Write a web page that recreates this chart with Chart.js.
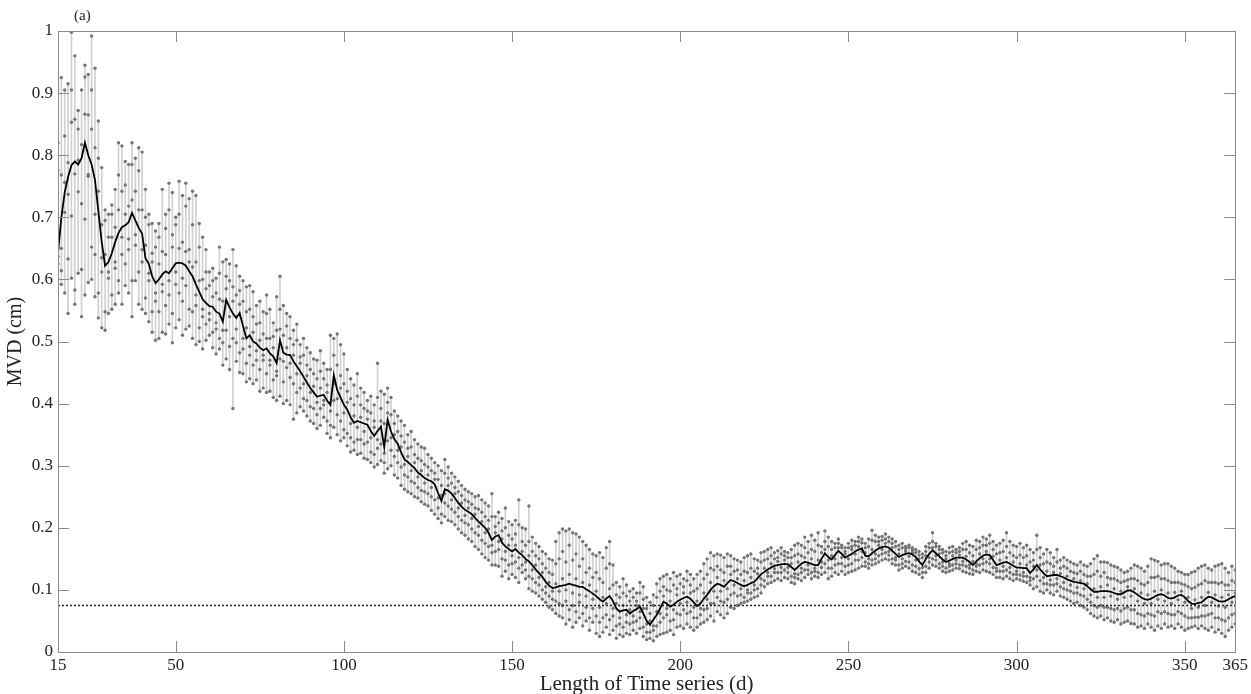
<!DOCTYPE html>
<html>
<head>
<meta charset="utf-8">
<title>MVD vs length of time series</title>
<script src="https://cdn.jsdelivr.net/npm/chart.js@4.4.1/dist/chart.umd.min.js"></script>
<style>
    html, body { margin: 0; padding: 0; background: #fff; }
    #wrap { width: 1251px; height: 694px; position: relative; }
</style>
</head>
<body>
<div id="wrap"><canvas id="mvdChart"></canvas></div>
<script>
// days 15..365, one value per day
const FIRST_DAY = 15;
const LAST_DAY = 365;
const X_TICKS = [15, 50, 100, 150, 200, 250, 300, 350, 365];
const THRESHOLD = 0.075;

// mean MVD (black line)
const MEAN = [
    0.643,0.700,0.740,0.765,0.784,0.790,0.785,0.795,0.820,0.800, // 15
    0.785,0.760,0.710,0.660,0.622,0.628,0.642,0.660,0.675,0.684, // 25
    0.687,0.692,0.707,0.695,0.683,0.674,0.634,0.625,0.605,0.594, // 35
    0.600,0.608,0.613,0.610,0.618,0.626,0.627,0.626,0.622,0.613, // 45
    0.605,0.592,0.580,0.568,0.562,0.557,0.556,0.548,0.545,0.532, // 55
    0.567,0.555,0.545,0.538,0.546,0.525,0.505,0.510,0.500,0.497, // 65
    0.490,0.486,0.489,0.481,0.476,0.465,0.502,0.482,0.479,0.478, // 75
    0.468,0.460,0.452,0.443,0.434,0.425,0.418,0.411,0.413,0.414, // 85
    0.405,0.398,0.446,0.422,0.410,0.398,0.390,0.378,0.369,0.372, // 95
    0.370,0.368,0.366,0.356,0.348,0.356,0.363,0.330,0.374,0.355, // 105
    0.343,0.335,0.322,0.310,0.306,0.301,0.296,0.289,0.285,0.280, // 115
    0.277,0.275,0.270,0.256,0.243,0.262,0.260,0.255,0.248,0.240, // 125
    0.234,0.229,0.226,0.222,0.216,0.210,0.205,0.200,0.192,0.180, // 135
    0.186,0.188,0.176,0.170,0.166,0.162,0.166,0.160,0.156,0.150, // 145
    0.146,0.140,0.133,0.127,0.121,0.113,0.107,0.103,0.104,0.106, // 155
    0.107,0.108,0.110,0.108,0.107,0.105,0.105,0.101,0.098,0.094, // 165
    0.090,0.085,0.081,0.086,0.090,0.082,0.070,0.065,0.067,0.068, // 175
    0.062,0.066,0.069,0.073,0.062,0.050,0.044,0.052,0.060,0.070, // 185
    0.081,0.078,0.073,0.076,0.081,0.084,0.087,0.089,0.086,0.080, // 195
    0.074,0.078,0.086,0.092,0.100,0.106,0.110,0.108,0.105,0.111, // 205
    0.116,0.114,0.111,0.108,0.106,0.108,0.111,0.113,0.119,0.125, // 215
    0.129,0.133,0.136,0.139,0.140,0.141,0.142,0.141,0.137,0.132, // 225
    0.137,0.142,0.145,0.144,0.142,0.140,0.140,0.150,0.159,0.153, // 235
    0.149,0.156,0.163,0.158,0.152,0.155,0.158,0.162,0.165,0.167, // 245
    0.155,0.154,0.159,0.163,0.167,0.169,0.170,0.168,0.163,0.158, // 255
    0.153,0.156,0.158,0.159,0.157,0.153,0.146,0.140,0.150,0.158, // 265
    0.164,0.159,0.154,0.149,0.145,0.147,0.150,0.152,0.152,0.152, // 275
    0.149,0.145,0.140,0.146,0.151,0.155,0.157,0.156,0.148,0.140, // 285
    0.142,0.144,0.145,0.142,0.139,0.136,0.136,0.135,0.135,0.127, // 295
    0.133,0.140,0.133,0.127,0.122,0.123,0.124,0.124,0.122,0.120, // 305
    0.117,0.115,0.113,0.112,0.111,0.110,0.106,0.101,0.097,0.097, // 315
    0.098,0.098,0.098,0.097,0.095,0.093,0.093,0.096,0.099,0.099, // 325
    0.096,0.092,0.088,0.085,0.084,0.086,0.089,0.092,0.093,0.091, // 335
    0.087,0.086,0.088,0.091,0.092,0.088,0.082,0.078,0.077,0.079, // 345
    0.080,0.085,0.089,0.088,0.085,0.082,0.081,0.082,0.085,0.088, // 355
    0.090                                                        // 365
];

// top of each grey range line
const HIGH = [
    0.820,0.925,0.905,0.915,0.998,0.960,0.872,0.905,0.945,0.930,
    0.992,0.940,0.855,0.780,0.712,0.705,0.720,0.745,0.820,0.815,
    0.790,0.785,0.820,0.795,0.812,0.805,0.745,0.705,0.690,0.678,
    0.690,0.745,0.705,0.755,0.740,0.700,0.758,0.735,0.755,0.730,
    0.742,0.735,0.690,0.668,0.648,0.612,0.618,0.602,0.652,0.628,
    0.632,0.625,0.648,0.622,0.605,0.598,0.588,0.590,0.580,0.558,
    0.565,0.548,0.575,0.552,0.530,0.572,0.605,0.558,0.545,0.540,
    0.518,0.528,0.495,0.505,0.490,0.482,0.472,0.470,0.485,0.465,
    0.455,0.510,0.505,0.512,0.495,0.480,0.455,0.440,0.430,0.448,
    0.425,0.418,0.405,0.412,0.398,0.465,0.420,0.415,0.425,0.410,
    0.388,0.380,0.372,0.365,0.350,0.355,0.342,0.335,0.330,0.328,
    0.318,0.312,0.305,0.300,0.292,0.310,0.298,0.288,0.282,0.275,
    0.268,0.262,0.258,0.255,0.250,0.252,0.245,0.240,0.235,0.255,
    0.218,0.225,0.215,0.232,0.210,0.205,0.212,0.245,0.200,0.198,
    0.235,0.185,0.175,0.170,0.162,0.158,0.150,0.148,0.178,0.192,
    0.198,0.195,0.198,0.192,0.190,0.185,0.178,0.172,0.165,0.158,
    0.155,0.160,0.152,0.168,0.178,0.140,0.112,0.105,0.118,0.108,
    0.098,0.102,0.095,0.112,0.105,0.088,0.080,0.092,0.110,0.118,
    0.122,0.125,0.118,0.128,0.122,0.125,0.118,0.130,0.125,0.118,
    0.125,0.130,0.142,0.150,0.160,0.155,0.158,0.156,0.152,0.158,
    0.155,0.150,0.148,0.145,0.152,0.155,0.158,0.150,0.148,0.160,
    0.162,0.165,0.168,0.160,0.163,0.168,0.162,0.160,0.165,0.172,
    0.175,0.172,0.185,0.178,0.188,0.180,0.192,0.170,0.195,0.185,
    0.178,0.175,0.182,0.172,0.168,0.175,0.180,0.178,0.185,0.182,
    0.175,0.182,0.196,0.188,0.185,0.186,0.190,0.185,0.182,0.178,
    0.172,0.175,0.170,0.172,0.168,0.165,0.162,0.158,0.170,0.175,
    0.192,0.175,0.170,0.165,0.162,0.168,0.170,0.165,0.168,0.175,
    0.178,0.172,0.170,0.180,0.178,0.185,0.182,0.188,0.178,0.172,
    0.175,0.180,0.192,0.178,0.172,0.170,0.175,0.168,0.172,0.165,
    0.160,0.188,0.168,0.158,0.165,0.160,0.152,0.165,0.148,0.152,
    0.148,0.145,0.142,0.140,0.145,0.140,0.138,0.142,0.150,0.155,
    0.145,0.145,0.144,0.140,0.138,0.136,0.132,0.128,0.130,0.135,
    0.140,0.138,0.135,0.130,0.138,0.150,0.148,0.146,0.140,0.142,
    0.142,0.138,0.135,0.130,0.128,0.125,0.125,0.128,0.130,0.135,
    0.138,0.140,0.135,0.132,0.138,0.140,0.142,0.135,0.128,0.138,
    0.132
];

// bottom of each grey range line
const LOW = [
    0.625,0.592,0.578,0.545,0.602,0.560,0.610,0.540,0.575,0.595,
    0.600,0.572,0.538,0.522,0.518,0.545,0.552,0.560,0.578,0.560,
    0.590,0.578,0.540,0.598,0.560,0.552,0.545,0.532,0.515,0.502,
    0.505,0.515,0.512,0.528,0.498,0.522,0.535,0.510,0.520,0.525,
    0.505,0.495,0.500,0.488,0.502,0.510,0.490,0.480,0.488,0.462,
    0.472,0.455,0.392,0.468,0.450,0.448,0.435,0.440,0.432,0.438,
    0.420,0.425,0.418,0.420,0.410,0.405,0.412,0.400,0.405,0.398,
    0.375,0.385,0.395,0.388,0.380,0.372,0.368,0.360,0.365,0.378,
    0.352,0.345,0.362,0.350,0.340,0.345,0.332,0.322,0.325,0.318,
    0.320,0.312,0.310,0.305,0.298,0.302,0.308,0.288,0.295,0.300,
    0.285,0.280,0.268,0.262,0.258,0.255,0.250,0.248,0.242,0.238,
    0.235,0.228,0.222,0.215,0.208,0.218,0.212,0.210,0.205,0.198,
    0.192,0.188,0.182,0.178,0.170,0.165,0.158,0.152,0.148,0.140,
    0.140,0.138,0.122,0.130,0.118,0.125,0.120,0.112,0.128,0.118,
    0.102,0.098,0.095,0.090,0.085,0.080,0.072,0.068,0.062,0.058,
    0.055,0.045,0.052,0.040,0.048,0.055,0.042,0.050,0.035,0.048,
    0.030,0.025,0.032,0.040,0.028,0.035,0.022,0.028,0.025,0.030,
    0.028,0.035,0.030,0.038,0.025,0.020,0.022,0.018,0.025,0.028,
    0.030,0.032,0.035,0.028,0.040,0.042,0.038,0.045,0.040,0.035,
    0.040,0.045,0.048,0.052,0.058,0.050,0.065,0.060,0.055,0.062,
    0.072,0.070,0.075,0.078,0.080,0.082,0.085,0.088,0.090,0.095,
    0.105,0.110,0.112,0.115,0.118,0.115,0.120,0.118,0.112,0.110,
    0.118,0.115,0.120,0.125,0.118,0.122,0.120,0.125,0.128,0.118,
    0.122,0.128,0.125,0.130,0.125,0.128,0.130,0.132,0.135,0.138,
    0.138,0.135,0.140,0.142,0.145,0.148,0.150,0.148,0.142,0.140,
    0.132,0.135,0.138,0.135,0.130,0.128,0.125,0.120,0.128,0.135,
    0.140,0.138,0.135,0.130,0.128,0.130,0.132,0.135,0.134,0.130,
    0.128,0.126,0.125,0.130,0.128,0.132,0.130,0.128,0.125,0.120,
    0.120,0.118,0.122,0.118,0.115,0.118,0.116,0.114,0.112,0.108,
    0.102,0.105,0.098,0.095,0.100,0.095,0.092,0.098,0.090,0.088,
    0.085,0.082,0.078,0.080,0.075,0.072,0.068,0.062,0.058,0.055,
    0.058,0.052,0.055,0.050,0.048,0.052,0.045,0.048,0.050,0.046,
    0.045,0.040,0.042,0.038,0.045,0.040,0.035,0.042,0.038,0.045,
    0.040,0.042,0.038,0.045,0.040,0.035,0.038,0.040,0.042,0.038,
    0.042,0.038,0.035,0.040,0.032,0.036,0.030,0.025,0.035,0.040,
    0.045
];

// three inner samples per day (grey dots between the ends)
const MID_A = [
    0.776,0.768,0.831,0.788,0.905,0.858,0.842,0.817,0.926,0.865,
    0.905,0.812,0.795,0.688,0.695,0.668,0.705,0.684,0.768,0.742,
    0.752,0.718,0.785,0.742,0.775,0.712,0.700,0.688,0.628,0.652,
    0.668,0.645,0.682,0.712,0.652,0.688,0.705,0.660,0.718,0.648,
    0.688,0.628,0.652,0.600,0.612,0.590,0.598,0.578,0.610,0.565,
    0.605,0.598,0.588,0.575,0.582,0.565,0.548,0.552,0.540,0.528,
    0.530,0.512,0.545,0.505,0.508,0.518,0.552,0.510,0.525,0.505,
    0.495,0.502,0.475,0.478,0.462,0.455,0.448,0.440,0.452,0.440,
    0.430,0.455,0.478,0.462,0.445,0.432,0.420,0.408,0.398,0.412,
    0.398,0.392,0.388,0.385,0.372,0.410,0.392,0.368,0.402,0.382,
    0.368,0.355,0.348,0.338,0.328,0.330,0.318,0.312,0.308,0.302,
    0.298,0.292,0.288,0.278,0.268,0.288,0.280,0.272,0.265,0.258,
    0.252,0.245,0.242,0.238,0.232,0.230,0.225,0.218,0.212,0.218,
    0.202,0.208,0.195,0.200,0.188,0.182,0.190,0.205,0.178,0.172,
    0.178,0.162,0.155,0.150,0.142,0.135,0.128,0.125,0.142,0.150,
    0.162,0.145,0.172,0.148,0.158,0.138,0.150,0.128,0.135,0.120,
    0.128,0.118,0.112,0.135,0.142,0.108,0.092,0.088,0.095,0.090,
    0.082,0.088,0.082,0.095,0.085,0.070,0.062,0.075,0.088,0.098,
    0.105,0.100,0.098,0.108,0.102,0.110,0.105,0.115,0.108,0.098,
    0.102,0.108,0.118,0.125,0.135,0.132,0.138,0.132,0.128,0.138,
    0.138,0.130,0.132,0.125,0.130,0.128,0.135,0.130,0.135,0.145,
    0.148,0.150,0.155,0.150,0.152,0.158,0.155,0.152,0.152,0.155,
    0.158,0.155,0.168,0.160,0.165,0.162,0.172,0.160,0.178,0.170,
    0.165,0.168,0.175,0.168,0.162,0.168,0.170,0.172,0.178,0.176,
    0.168,0.170,0.180,0.178,0.178,0.180,0.182,0.178,0.175,0.170,
    0.165,0.168,0.166,0.168,0.164,0.160,0.156,0.152,0.162,0.168,
    0.178,0.170,0.165,0.160,0.155,0.160,0.162,0.160,0.162,0.165,
    0.165,0.160,0.155,0.165,0.168,0.172,0.172,0.175,0.165,0.158,
    0.160,0.162,0.170,0.160,0.155,0.152,0.156,0.152,0.155,0.145,
    0.148,0.165,0.152,0.142,0.145,0.142,0.138,0.145,0.135,0.138,
    0.135,0.130,0.128,0.126,0.130,0.125,0.122,0.122,0.125,0.130,
    0.122,0.128,0.120,0.118,0.118,0.115,0.112,0.114,0.116,0.118,
    0.118,0.115,0.110,0.108,0.112,0.120,0.120,0.122,0.118,0.118,
    0.115,0.112,0.112,0.112,0.110,0.108,0.105,0.102,0.104,0.108,
    0.110,0.115,0.112,0.112,0.112,0.110,0.112,0.108,0.108,0.115,
    0.112
];

const MID_B = [
    0.637,0.614,0.708,0.633,0.702,0.583,0.741,0.616,0.697,0.769,
    0.652,0.640,0.578,0.612,0.548,0.602,0.575,0.628,0.598,0.640,
    0.625,0.648,0.598,0.655,0.612,0.628,0.570,0.598,0.548,0.565,
    0.548,0.580,0.558,0.575,0.545,0.592,0.578,0.565,0.590,0.552,
    0.548,0.558,0.522,0.540,0.528,0.535,0.515,0.520,0.505,0.498,
    0.518,0.492,0.505,0.498,0.482,0.488,0.465,0.478,0.462,0.470,
    0.455,0.470,0.448,0.462,0.438,0.445,0.472,0.435,0.458,0.442,
    0.432,0.418,0.425,0.408,0.405,0.395,0.392,0.382,0.392,0.398,
    0.372,0.365,0.405,0.382,0.372,0.358,0.352,0.345,0.338,0.342,
    0.342,0.335,0.338,0.322,0.318,0.328,0.335,0.305,0.340,0.325,
    0.315,0.305,0.298,0.285,0.282,0.275,0.272,0.265,0.260,0.258,
    0.255,0.250,0.245,0.232,0.222,0.240,0.235,0.230,0.225,0.218,
    0.212,0.208,0.205,0.198,0.192,0.188,0.180,0.175,0.170,0.160,
    0.162,0.165,0.150,0.148,0.140,0.142,0.145,0.135,0.140,0.132,
    0.122,0.118,0.112,0.108,0.100,0.095,0.090,0.085,0.082,0.078,
    0.075,0.082,0.068,0.075,0.065,0.080,0.062,0.072,0.055,0.070,
    0.058,0.048,0.055,0.060,0.052,0.058,0.042,0.045,0.040,0.048,
    0.045,0.048,0.050,0.055,0.040,0.032,0.032,0.035,0.042,0.048,
    0.055,0.060,0.050,0.052,0.062,0.060,0.068,0.062,0.065,0.055,
    0.055,0.060,0.068,0.070,0.078,0.078,0.088,0.082,0.080,0.085,
    0.092,0.095,0.090,0.092,0.088,0.095,0.095,0.100,0.102,0.108,
    0.115,0.122,0.122,0.128,0.128,0.128,0.132,0.128,0.122,0.120,
    0.125,0.128,0.132,0.132,0.128,0.130,0.128,0.136,0.142,0.135,
    0.135,0.140,0.142,0.142,0.138,0.140,0.142,0.148,0.148,0.152,
    0.145,0.142,0.148,0.150,0.155,0.158,0.160,0.156,0.150,0.148,
    0.140,0.142,0.146,0.145,0.140,0.138,0.134,0.128,0.138,0.145,
    0.150,0.148,0.142,0.138,0.135,0.138,0.140,0.142,0.140,0.140,
    0.138,0.135,0.132,0.138,0.140,0.142,0.145,0.142,0.136,0.130,
    0.130,0.130,0.132,0.128,0.125,0.125,0.124,0.122,0.122,0.115,
    0.118,0.122,0.115,0.110,0.110,0.108,0.108,0.110,0.105,0.102,
    0.100,0.098,0.095,0.095,0.092,0.090,0.085,0.080,0.075,0.072,
    0.075,0.072,0.072,0.070,0.068,0.070,0.066,0.070,0.072,0.068,
    0.068,0.062,0.060,0.058,0.062,0.060,0.058,0.065,0.062,0.065,
    0.062,0.060,0.060,0.065,0.062,0.058,0.055,0.055,0.056,0.056,
    0.058,0.058,0.060,0.062,0.055,0.055,0.052,0.050,0.055,0.060,
    0.062
];

const MID_C = [
    0.663,0.650,0.756,0.737,0.853,0.770,0.792,0.722,0.866,0.766,
    0.842,0.705,0.742,0.635,0.640,0.612,0.668,0.618,0.712,0.668,
    0.705,0.665,0.728,0.672,0.712,0.648,0.655,0.610,0.642,0.578,
    0.625,0.592,0.640,0.598,0.672,0.612,0.650,0.602,0.645,0.628,
    0.620,0.575,0.598,0.552,0.585,0.545,0.572,0.530,0.568,0.518,
    0.585,0.540,0.565,0.520,0.560,0.505,0.522,0.492,0.515,0.485,
    0.502,0.478,0.505,0.470,0.490,0.452,0.520,0.468,0.490,0.465,
    0.478,0.448,0.465,0.432,0.445,0.418,0.428,0.402,0.425,0.405,
    0.418,0.388,0.432,0.408,0.425,0.385,0.402,0.368,0.380,0.362,
    0.378,0.355,0.375,0.345,0.362,0.342,0.372,0.320,0.385,0.345,
    0.350,0.325,0.330,0.302,0.315,0.292,0.305,0.282,0.292,0.272,
    0.285,0.265,0.278,0.248,0.252,0.255,0.268,0.245,0.255,0.232,
    0.240,0.220,0.232,0.215,0.222,0.202,0.210,0.192,0.198,0.172,
    0.192,0.178,0.182,0.162,0.172,0.155,0.172,0.152,0.162,0.145,
    0.155,0.132,0.140,0.120,0.128,0.105,0.112,0.098,0.110,0.098,
    0.118,0.100,0.125,0.095,0.118,0.092,0.112,0.090,0.108,0.085,
    0.098,0.072,0.088,0.078,0.102,0.070,0.078,0.055,0.075,0.060,
    0.068,0.058,0.075,0.065,0.070,0.045,0.050,0.042,0.065,0.062,
    0.090,0.070,0.082,0.068,0.092,0.078,0.095,0.080,0.095,0.072,
    0.082,0.070,0.095,0.085,0.112,0.098,0.120,0.098,0.115,0.102,
    0.125,0.108,0.118,0.102,0.115,0.100,0.120,0.108,0.126,0.118,
    0.135,0.128,0.142,0.134,0.146,0.136,0.148,0.136,0.142,0.126,
    0.145,0.135,0.152,0.140,0.150,0.135,0.148,0.145,0.165,0.148,
    0.155,0.150,0.168,0.152,0.158,0.150,0.165,0.158,0.170,0.162,
    0.160,0.150,0.165,0.158,0.172,0.165,0.175,0.162,0.168,0.152,
    0.158,0.150,0.162,0.154,0.160,0.148,0.150,0.136,0.155,0.152,
    0.168,0.155,0.158,0.145,0.150,0.142,0.155,0.148,0.156,0.146,
    0.154,0.140,0.146,0.142,0.158,0.150,0.162,0.150,0.154,0.135,
    0.148,0.138,0.152,0.136,0.145,0.130,0.142,0.128,0.140,0.120,
    0.138,0.132,0.140,0.120,0.130,0.116,0.128,0.118,0.126,0.112,
    0.122,0.108,0.118,0.104,0.115,0.102,0.110,0.092,0.102,0.088,
    0.105,0.088,0.108,0.090,0.102,0.085,0.098,0.088,0.105,0.090,
    0.102,0.082,0.095,0.078,0.092,0.078,0.098,0.085,0.100,0.082,
    0.095,0.078,0.096,0.084,0.098,0.080,0.088,0.070,0.084,0.072,
    0.088,0.075,0.096,0.080,0.092,0.074,0.088,0.072,0.092,0.080,
    0.095
];

const FONT = '"Liberation Serif", "Times New Roman", serif';
const TICK_LEN = 11;

$main();

function $main() {
    const DAYS = [];
    for (let d = FIRST_DAY; d <= LAST_DAY; d++) DAYS.push(d);

    const rangeData = DAYS.map((d, i) => ({x: d, y: [LOW[i], HIGH[i]]}));
    const dotData = [];
    [HIGH, MID_A, MID_C, MID_B, LOW].forEach(arr => {
        DAYS.forEach((d, i) => dotData.push({x: d, y: arr[i]}));
    });
    const meanData = DAYS.map((d, i) => ({x: d, y: MEAN[i]}));
    const limitData = [{x: FIRST_DAY, y: THRESHOLD}, {x: LAST_DAY, y: THRESHOLD}];

    // box, inward ticks on four sides and the panel letter
    const framePlugin = {
        id: 'frame',
        afterDraw(chart) {
            const ctx = chart.ctx;
            const a = chart.chartArea;
            const xs = chart.scales.x, ys = chart.scales.y;
            ctx.save();
            ctx.strokeStyle = '#8a8a8a';
            ctx.lineWidth = 1;
            ctx.strokeRect(Math.round(a.left) + 0.5, Math.round(a.top) + 0.5,
                Math.round(a.right - a.left), Math.round(a.bottom - a.top));
            ctx.beginPath();
            X_TICKS.forEach(v => {
                const px = Math.round(xs.getPixelForValue(v)) + 0.5;
                ctx.moveTo(px, a.bottom); ctx.lineTo(px, a.bottom - TICK_LEN);
                ctx.moveTo(px, a.top); ctx.lineTo(px, a.top + TICK_LEN);
            });
            ys.ticks.forEach(t => {
                const py = Math.round(ys.getPixelForValue(t.value)) + 0.5;
                ctx.moveTo(a.left, py); ctx.lineTo(a.left + TICK_LEN, py);
                ctx.moveTo(a.right, py); ctx.lineTo(a.right - TICK_LEN, py);
            });
            ctx.stroke();
            ctx.fillStyle = '#222';
            ctx.font = '15px ' + FONT;
            ctx.textBaseline = 'middle';
            ctx.fillText('(a)', 74, 16);
            ctx.restore();
        }
    };

    new Chart(document.getElementById('mvdChart'), {
        type: 'bar',
        data: {
            datasets: [
                {
                    type: 'line',
                    label: 'mean',
                    data: meanData,
                    borderColor: '#000',
                    borderWidth: 1.8,
                    pointRadius: 0,
                    tension: 0,
                    order: 1
                },
                {
                    type: 'line',
                    label: 'threshold',
                    data: limitData,
                    borderColor: '#222',
                    borderWidth: 1.6,
                    borderDash: [2, 2],
                    pointRadius: 0,
                    order: 2
                },
                {
                    type: 'scatter',
                    label: 'samples',
                    data: dotData,
                    backgroundColor: '#747474',
                    borderColor: '#747474',
                    borderWidth: 0,
                    pointRadius: 1.7,
                    order: 3
                },
                {
                    type: 'bar',
                    label: 'range',
                    data: rangeData,
                    backgroundColor: '#d0d0d0',
                    barThickness: 1,
                    grouped: false,
                    order: 4
                }
            ]
        },
        options: {
            responsive: true,
            maintainAspectRatio: false,
            animation: false,
            layout: {padding: {left: 0, top: 31, right: 13, bottom: 0}},
            plugins: {legend: {display: false}, tooltip: {enabled: false}},
            scales: {
                x: {
                    type: 'linear',
                    min: FIRST_DAY,
                    max: LAST_DAY,
                    offset: false,
                    afterBuildTicks: s => { s.ticks = X_TICKS.map(v => ({value: v})); },
                    afterFit: s => { s.height = 42; },
                    grid: {display: false, drawTicks: false},
                    border: {display: false},
                    ticks: {
                        autoSkip: false,
                        maxRotation: 0,
                        padding: 3,
                        color: '#222',
                        font: {family: FONT, size: 17}
                    },
                    title: {
                        display: true,
                        text: 'Length of Time series (d)',
                        color: '#222',
                        padding: {top: 0, bottom: -3},
                        font: {family: FONT, size: 21}
                    }
                },
                y: {
                    min: 0,
                    max: 1,
                    afterFit: s => { s.width = 58; },
                    grid: {display: false, drawTicks: false},
                    border: {display: false},
                    ticks: {
                        stepSize: 0.1,
                        padding: 5,
                        color: '#222',
                        font: {family: FONT, size: 17},
                        callback: v => String(Math.round(v * 10) / 10)
                    },
                    title: {
                        display: true,
                        text: 'MVD (cm)',
                        color: '#222',
                        padding: {top: 4, bottom: 0},
                        font: {family: FONT, size: 20}
                    }
                }
            }
        },
        plugins: [framePlugin]
    });
}
</script>
</body>
</html>
